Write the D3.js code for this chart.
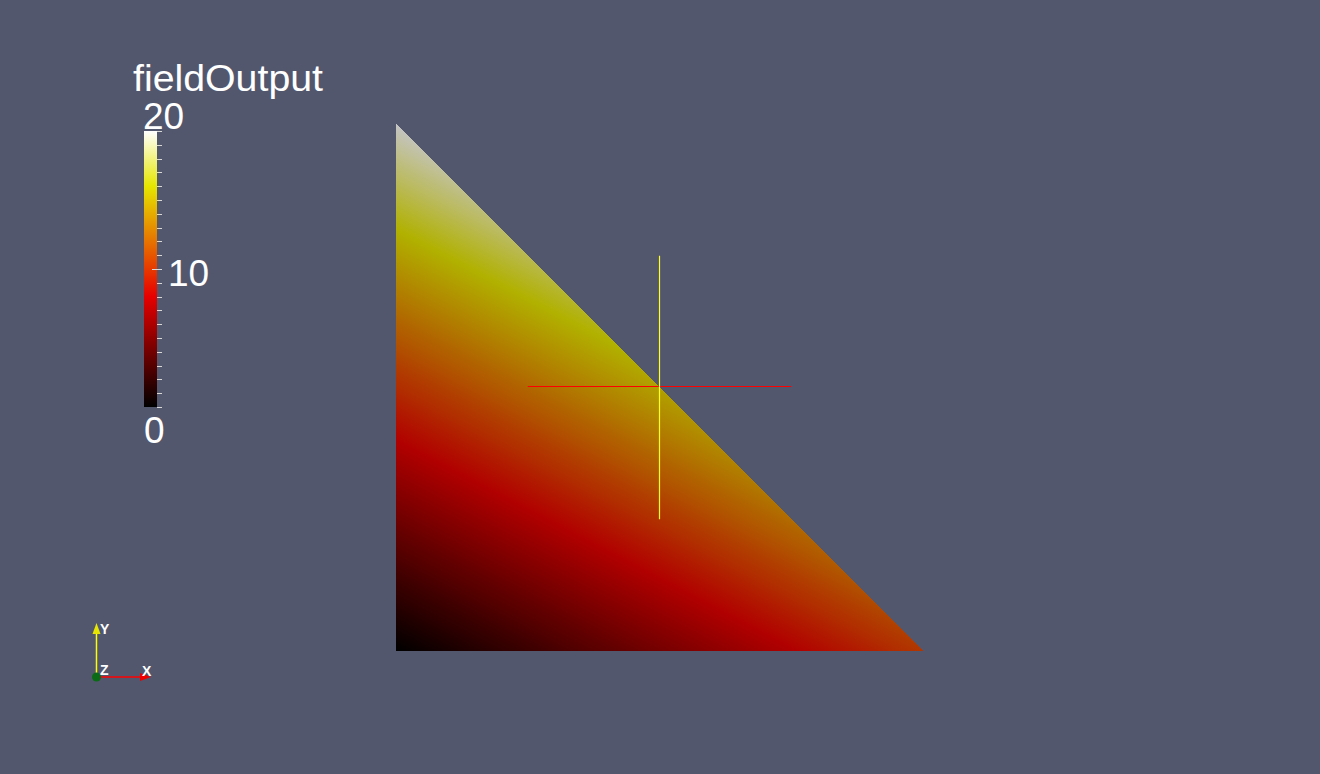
<!DOCTYPE html>
<html>
<head>
<meta charset="utf-8">
<script src="https://cdn.jsdelivr.net/npm/d3@7"></script>
<style>
  html, body { margin: 0; padding: 0; background: #52576e; overflow: hidden; }
  text { font-family: "Liberation Sans", Arial, sans-serif; fill: #ffffff; }
</style>
</head>
<body>
<div id="view"></div>
<script>
// triangle vertices (model coords) and the point values of fieldOutput
var vertexX = [0, 0, 1];
var vertexY = [0, 1, 0];
var vertexValue = [0, 20, 10.5];

// probe / cross widget
var probeCenter = [0.5, 0.5];
var probeHalf = 0.25;

// colour legend
var legendTitle = "fieldOutput";
var legendRange = [0, 20];
var legendLabels = [0, 10, 20];
var legendTicks = d3.range(0, 21, 1);

// Black-Body Radiation map
var cmapStops = [0, 0.4, 0.8, 1];
var cmapColors = ["#000000", "#e60000", "#e6e600", "#ffffff"];

var svgWidth = 1320;
var svgHeight = 774;
var shade = 0.77;   // flat lighting on the surface

var svg = d3.select("#view")
  .append("svg")
  .attr("width", svgWidth)
  .attr("height", svgHeight);

svg.append("rect")
  .attr("width", svgWidth)
  .attr("height", svgHeight)
  .attr("fill", "#52576e");

var colorScale = d3.scaleLinear()
  .domain(cmapStops.map(d => legendRange[0] + d * (legendRange[1] - legendRange[0])))
  .range(cmapColors)
  .interpolate(d3.interpolateRgb);

function shaded(v) {
  var c = d3.rgb(colorScale(v));
  return d3.rgb(c.r * shade, c.g * shade, c.b * shade).toString();
}

var defs = svg.append("defs");

// scales for the mesh
var xScale = d3.scaleLinear().domain([0, 1]).range([396, 923]);
var yScale = d3.scaleLinear().domain([0, 1]).range([651, 124]);

var pts = vertexX.map((x, i) => [xScale(x), yScale(vertexY[i])]);

// gradient of the linear field over the triangle (pixel space)
var dx1 = pts[1][0] - pts[0][0], dy1 = pts[1][1] - pts[0][1];
var dx2 = pts[2][0] - pts[0][0], dy2 = pts[2][1] - pts[0][1];
var dv1 = vertexValue[1] - vertexValue[0], dv2 = vertexValue[2] - vertexValue[0];
var det = dx1 * dy2 - dx2 * dy1;
var gx = (dv1 * dy2 - dv2 * dy1) / det;
var gy = (dx1 * dv2 - dx2 * dv1) / det;
var g2 = gx * gx + gy * gy;

var fieldGrad = defs.append("linearGradient")
  .attr("id", "fieldGrad")
  .attr("gradientUnits", "userSpaceOnUse")
  .attr("x1", pts[0][0] + gx * (legendRange[0] - vertexValue[0]) / g2)
  .attr("y1", pts[0][1] + gy * (legendRange[0] - vertexValue[0]) / g2)
  .attr("x2", pts[0][0] + gx * (legendRange[1] - vertexValue[0]) / g2)
  .attr("y2", pts[0][1] + gy * (legendRange[1] - vertexValue[0]) / g2);

fieldGrad.selectAll("stop")
  .data(d3.range(0, 41))
  .enter()
  .append("stop")
  .attr("offset", d => d / 40)
  .attr("stop-color", d => shaded(legendRange[0] + d / 40 * (legendRange[1] - legendRange[0])));

svg.append("path")
  .attr("d", d3.line()(pts) + "Z")
  .attr("fill", "url(#fieldGrad)")
  .attr("shape-rendering", "crispEdges");

// cross widget
var cx = Math.floor(xScale(probeCenter[0])) + 0.5;
var cy = Math.floor(yScale(probeCenter[1])) - 0.5;
svg.append("line")
  .attr("x1", xScale(probeCenter[0] - probeHalf))
  .attr("x2", xScale(probeCenter[0] + probeHalf))
  .attr("y1", cy).attr("y2", cy)
  .attr("stroke", "#ff0000")
  .attr("stroke-width", 1.2);
svg.append("line")
  .attr("x1", cx).attr("x2", cx)
  .attr("y1", yScale(probeCenter[1] + probeHalf))
  .attr("y2", yScale(probeCenter[1] - probeHalf))
  .attr("stroke", "#ffff20")
  .attr("stroke-width", 1.2);

// colour legend
var barScale = d3.scaleLinear().domain(legendRange).range([407, 131]);

var barGrad = defs.append("linearGradient")
  .attr("id", "barGrad")
  .attr("x1", 0).attr("y1", 1).attr("x2", 0).attr("y2", 0);
barGrad.selectAll("stop")
  .data(cmapStops)
  .enter()
  .append("stop")
  .attr("offset", d => d)
  .attr("stop-color", (d, i) => cmapColors[i]);

var legend = svg.append("g");

legend.append("rect")
  .attr("x", 144)
  .attr("y", barScale(legendRange[1]))
  .attr("width", 13)
  .attr("height", barScale(legendRange[0]) - barScale(legendRange[1]))
  .attr("fill", "url(#barGrad)");

legend.selectAll("line.tick")
  .data(legendTicks)
  .enter()
  .append("line")
  .attr("class", "tick")
  .attr("x1", d => d === 10 ? 152 : 157)
  .attr("x2", 162)
  .attr("y1", d => Math.round(barScale(d)) + 0.5)
  .attr("y2", d => Math.round(barScale(d)) + 0.5)
  .attr("stroke", "#d8d8d8")
  .attr("stroke-width", 1);

legend.append("text")
  .attr("x", 133)
  .attr("y", 91)
  .attr("font-size", 37)
  .attr("textLength", 190)
  .attr("lengthAdjust", "spacingAndGlyphs")
  .text(legendTitle);

var labelPos = { 0: [144, 443], 10: [168, 286], 20: [143, 129] };
legend.selectAll("text.lab")
  .data(legendLabels)
  .enter()
  .append("text")
  .attr("class", "lab")
  .attr("x", d => labelPos[d][0])
  .attr("y", d => labelPos[d][1])
  .attr("font-size", 37)
  .text(d => d);

// orientation axes glyph
var axes = svg.append("g");
axes.append("line")
  .attr("x1", 96.5).attr("y1", 677).attr("x2", 96.5).attr("y2", 632)
  .attr("stroke", "#ffff00").attr("stroke-width", 1.5);
axes.append("path")
  .attr("d", "M96.5,623 L100.5,634 L92.5,634 Z")
  .attr("fill", "#e6e600");
axes.append("line")
  .attr("x1", 97).attr("y1", 677).attr("x2", 141).attr("y2", 677)
  .attr("stroke", "#ff0000").attr("stroke-width", 1.5);
axes.append("path")
  .attr("d", "M151,677 L140,673 L140,681 Z")
  .attr("fill", "#ee0000");
axes.append("circle")
  .attr("cx", 96.5).attr("cy", 677).attr("r", 4.5)
  .attr("fill", "#0a6a16");
axes.append("text").attr("x", 100).attr("y", 634).attr("font-size", 14).attr("font-weight", "bold").text("Y");
axes.append("text").attr("x", 100).attr("y", 675).attr("font-size", 14).attr("font-weight", "bold").text("Z");
axes.append("text").attr("x", 142).attr("y", 676).attr("font-size", 14).attr("font-weight", "bold").text("X");
</script>
</body>
</html>
